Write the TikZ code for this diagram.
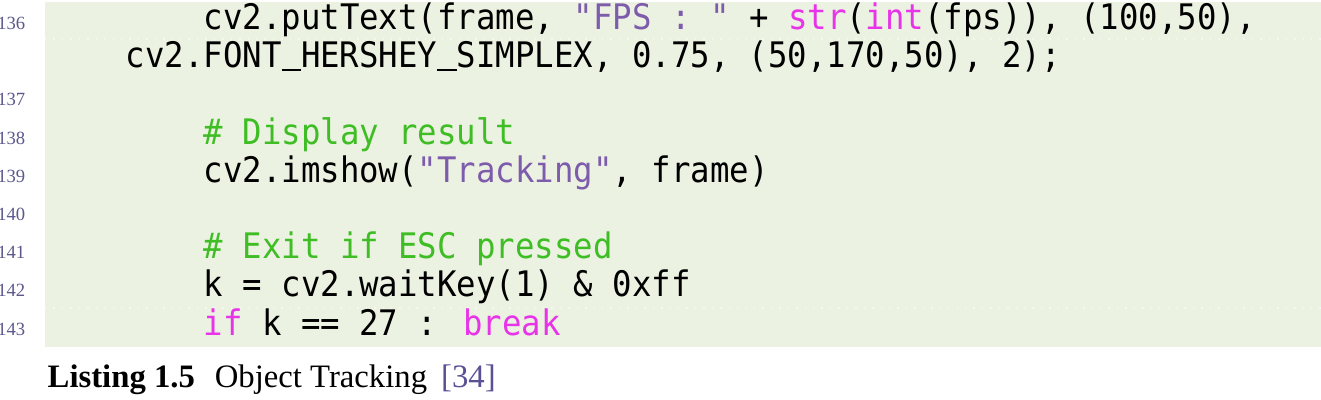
\documentclass[tikz,border=0pt]{standalone}
\usepackage{fontspec}
\setmainfont{Liberation Serif}
\newfontfamily\codefont[FakeStretch=0.92]{DejaVu Sans Mono}
\definecolor{listbg}{RGB}{236,242,226}
\definecolor{lnumcol}{RGB}{92,88,142}
\definecolor{kwcol}{RGB}{232,52,232}
\definecolor{strcol}{RGB}{126,92,172}
\definecolor{cmtcol}{RGB}{62,190,36}
\definecolor{citecol}{RGB}{90,80,150}
\newcommand\kwd[1]{\textcolor{kwcol}{#1}}
\newcommand\strg[1]{\textcolor{strcol}{#1}}
\newcommand\cmt[1]{\textcolor{cmtcol}{#1}}
\newcommand\us{\rule[-0.1em]{0.5538em}{0.07em}}
\begin{document}
\begin{tikzpicture}[x=0.01cm,y=-0.01cm,
  lnum/.style={anchor=base east,inner sep=0,text=lnumcol,font=\fontsize{5.3pt}{6pt}\selectfont},
  code/.style={anchor=base west,inner sep=0,font=\codefont\fontsize{10pt}{12pt}\selectfont},
  capt/.style={anchor=base west,inner sep=0,font=\fontsize{9.3pt}{11pt}\selectfont}]
\useasboundingbox (0,0) rectangle (1321,400);
\fill[listbg] (45,2) rectangle (1321,347);
\draw[white,dotted,opacity=0.5] (45,39) -- (1321,39);
\draw[white,dotted,opacity=0.5] (45,308) -- (1321,308);
% line numbers
\node[lnum] (n136) at (26,29.5) {136};
\node[lnum] (n137) at (26,105.9) {137};
\node[lnum] (n138) at (26,144.1) {138};
\node[lnum] (n139) at (26,182.3) {139};
\node[lnum] (n140) at (26,220.5) {140};
\node[lnum] (n141) at (26,258.7) {141};
\node[lnum] (n142) at (26,296.9) {142};
\node[lnum] (n143) at (26,335.1) {143};
% code
\node[code] (c136) at (203,29.5) {cv2.putText(frame, \strg{"FPS : "} + \kwd{str}(\kwd{int}(fps)), (100,50),};
\node[code] (c136b) at (125,67.7) {cv2.FONT\us HERSHEY\us SIMPLEX, 0.75, (50,170,50), 2);};
\node[code] (c138) at (203,144.1) {\cmt{\# Display result}};
\node[code] (c139) at (203,182.3) {cv2.imshow(\strg{"Tracking"}, frame)};
\node[code] (c141) at (203,258.7) {\cmt{\# Exit if ESC pressed}};
\node[code] (c142) at (203,296.9) {k = cv2.waitKey(1) \& 0xff};
\node[code] (c143) at (203,335.1) {\kwd{if} k == 27 : \kwd{break}};
% caption
\node[capt] (capt) at (47,387) {{\bfseries Listing 1.5}\hspace{0.61em}Object Tracking\hspace{0.43em}\textcolor{citecol}{[34]}};
\end{tikzpicture}
\end{document}
